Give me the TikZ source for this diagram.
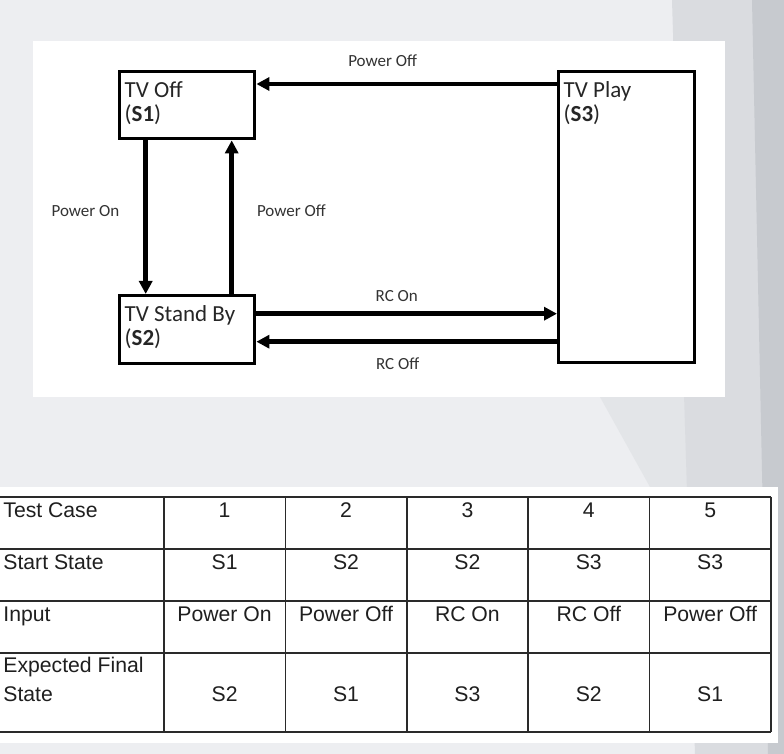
\documentclass[tikz,border=0pt]{standalone}
\usepackage{fontspec}
\setmainfont{Carlito}
\newfontfamily\tablefont{Liberation Sans}
\usetikzlibrary{arrows.meta}
\definecolor{bgbase}{HTML}{EDEEF1}
\definecolor{bglight}{HTML}{E3E5E8}
\definecolor{bgmid}{HTML}{DADCE0}
\definecolor{bgdark}{HTML}{C7CACF}
\definecolor{gridline}{HTML}{2A2A2A}

\begin{document}
\begin{tikzpicture}[x=0.5pt, y=-0.5pt,
  state/.style={draw, line width=1.7pt, inner xsep=2.5pt, inner ysep=4.8pt, anchor=north west,
    font=\fontsize{11.5}{12}\selectfont, text=black!85},
  flow/.style={line width=2.3pt, -{Triangle[length=6.5pt, width=6.5pt]}},
  lbl/.style={font=\fontsize{8.5}{10}\selectfont, inner sep=0pt, text=black!80},
  cell/.style={font=\tablefont\fontsize{10.6}{12}\selectfont, anchor=base, inner sep=0pt, text=black!88}]
\useasboundingbox (0,0) rectangle (784,754);
\clip (0,0) rectangle (784,754);

% background
\fill[bgbase] (0,0) rectangle (784,754);
\fill[bglight] (600,397) -- (784,397) -- (784,487) -- (650,487) -- cycle;
\fill[bgmid] (672,0) -- (784,0) -- (784,754) -- (695,754) -- cycle;
\fill[bgdark] (752,0) -- (784,0) -- (784,754) -- (768,754) -- cycle;
\fill[white] (33,41) rectangle (725,397);
\fill[white] (0,487) rectangle (778,743);

% states
\node[state] (s1) at (118,70) {\parbox[t][23.9pt][t]{62.5pt}{TV Off\\(\textbf{S1})}};
\node[state] (s2) at (118,294) {\parbox[t][24.4pt][t]{62.5pt}{TV Stand By\\(\textbf{S2})}};
\node[state] (s3) at (557,70) {\parbox[t][135.9pt][t]{63pt}{TV Play\\(\textbf{S3})}};

% transitions
\coordinate (top) at ([yshift=-7pt]s3.north west);
\coordinate (rcon) at ([yshift=8pt]s2.east);
\coordinate (rcoff) at ([yshift=-6pt]s2.east);
\draw[flow] (top) -- (top -| s1.east) node[lbl, pos=0.58, above=7.5pt] {Power Off};
\draw[flow] ([xshift=-20.75pt]s1.south) -- ([xshift=-20.75pt]s2.north)
  node[lbl, pos=0.46, left=12pt] {Power On};
\draw[flow] ([xshift=22.25pt]s2.north) -- ([xshift=22.25pt]s1.south)
  node[lbl, pos=0.54, right=11.5pt] {Power Off};
\draw[flow] (rcon) -- (rcon -| s3.west) node[lbl, pos=0.467, above=5pt] {RC On};
\draw[flow] (rcoff -| s3.west) -- (rcoff) node[lbl, pos=0.53, below=7pt] {RC Off};

% test table
\foreach \y in {497,549,601,653,732}
  \draw[gridline, line width=0.8pt] (-5,\y) -- (771,\y);
\foreach \i in {1,...,5}
  \draw[gridline, line width=0.8pt] ({42.6+121.4*\i},497) -- ({42.6+121.4*\i},732);
\draw[gridline, line width=1.1pt] (771,497) -- (771,732);

\foreach \lab/\y [count=\k] in {Test Case/518, Start State/570, Input/622, Expected Final/673, State/702}
  \node[cell, anchor=base west] (h\k) at (3,\y) {\lab};
\foreach \a/\b/\c/\d [count=\i] in {1/S1/Power On/S2, 2/S2/Power Off/S1, 3/S2/RC On/S3,
    4/S3/RC Off/S2, 5/S3/Power Off/S1} {
  \node[cell] (tc\i) at ({103.2+121.4*\i},518) {\a};
  \node[cell] (ss\i) at ({103.2+121.4*\i},570) {\b};
  \node[cell] (in\i) at ({103.2+121.4*\i},622) {\c};
  \node[cell] (ef\i) at ({103.2+121.4*\i},702) {\d};
}
\end{tikzpicture}
\end{document}
